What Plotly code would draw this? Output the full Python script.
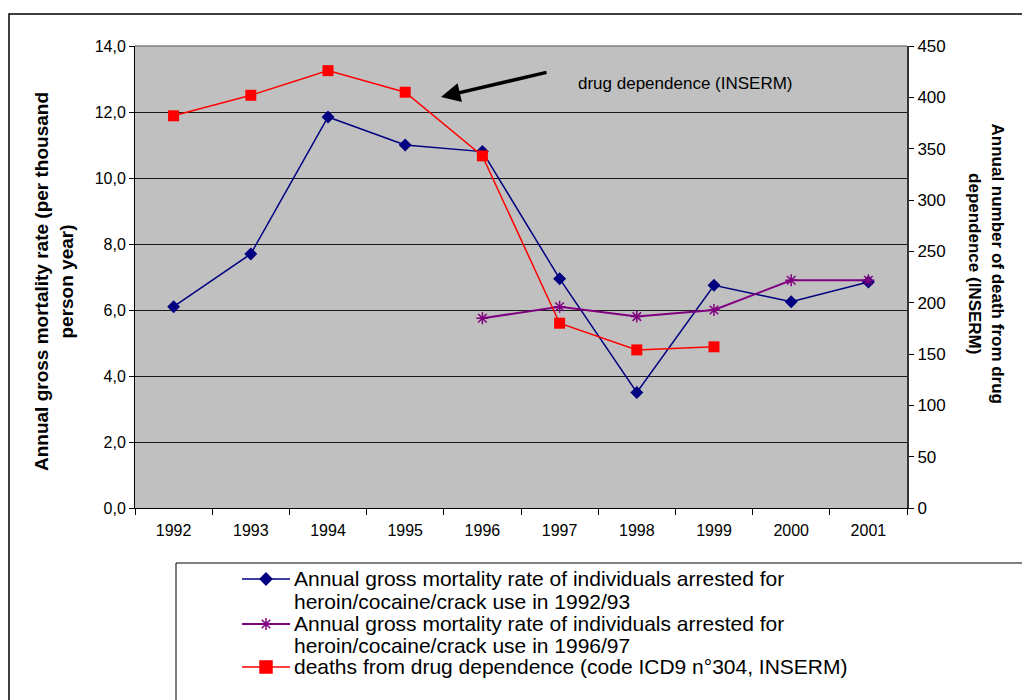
import plotly.graph_objects as go

years = ["1992", "1993", "1994", "1995", "1996", "1997", "1998", "1999", "2000", "2001"]
rate_9293 = [6.1, 7.7, 11.85, 11.0, 10.8, 6.95, 3.5, 6.75, 6.25, 6.85]
rate_9697 = [None, None, None, None, 5.75, 6.1, 5.8, 6.0, 6.9, 6.9]
deaths_inserm = [382, 402, 426, 405, 343, 180, 154, 157, None, None]

left_ticks = [0, 2, 4, 6, 8, 10, 12, 14]
left_ticktext = ["0,0", "2,0", "4,0", "6,0", "8,0", "10,0", "12,0", "14,0"]
right_ticks = [0, 50, 100, 150, 200, 250, 300, 350, 400, 450]

legend_lines = [
    ["Annual gross mortality rate of individuals arrested for",
     "heroin/cocaine/crack use in 1992/93"],
    ["Annual gross mortality rate of individuals arrested for",
     "heroin/cocaine/crack use in 1996/97"],
    ["deaths from drug dependence (code ICD9 n°304, INSERM)"],
]

FONT = "Liberation Sans, Arial, sans-serif"
BLUE, PURPLE, RED = "#000080", "#800080", "#FF0000"

# page offset (browser body margin)
OFF = 8
W, H = 1030 - OFF, 700 - OFF
PL, PR, PT, PB = 135, 907, 46, 508   # plot area in page pixels


def X(p):
    return (p - OFF) / W


def Y(p):
    return 1 - (p - OFF) / H


fig = go.Figure()
fig.add_trace(go.Scatter(x=years, y=rate_9293, mode="lines+markers", showlegend=False,
                         line=dict(color=BLUE, width=1.5),
                         marker=dict(symbol="diamond", size=10, color=BLUE)))
fig.add_trace(go.Scatter(x=years, y=rate_9697, mode="lines+markers", showlegend=False,
                         line=dict(color=PURPLE, width=2),
                         marker=dict(symbol="asterisk-open", size=10, color=PURPLE,
                                     line=dict(color=PURPLE, width=1.5))))
fig.add_trace(go.Scatter(x=years, y=deaths_inserm, mode="lines+markers", showlegend=False,
                         yaxis="y2",
                         line=dict(color=RED, width=1.5),
                         marker=dict(symbol="square", size=11, color=RED)))

# legend samples drawn on a hidden pixel-scaled axis pair
LX0, LX1 = 230, 310
LY0, LY1 = 566, 698
sample_rows = [579, 624, 667]
sample_styles = [
    dict(color=BLUE, symbol="diamond", size=9, lw=1.5),
    dict(color=PURPLE, symbol="asterisk-open", size=10, lw=2),
    dict(color=RED, symbol="square", size=12, lw=1.5),
]
for row, st in zip(sample_rows, sample_styles):
    fig.add_trace(go.Scatter(x=[242, 290], y=[row, row], mode="lines", showlegend=False,
                             xaxis="x3", yaxis="y3", hoverinfo="skip",
                             line=dict(color=st["color"], width=st["lw"])))
    fig.add_trace(go.Scatter(x=[266], y=[row], mode="markers", showlegend=False,
                             xaxis="x3", yaxis="y3", hoverinfo="skip",
                             marker=dict(symbol=st["symbol"], size=st["size"], color=st["color"],
                                         line=dict(color=st["color"], width=1.5))))

fig.update_layout(
    width=W, height=H,
    margin=dict(l=0, r=0, t=0, b=0),
    paper_bgcolor="white",
    plot_bgcolor="white",
    font=dict(family=FONT, size=15, color="black"),
    showlegend=False,
    xaxis=dict(domain=[X(PL), X(PR)], type="category", range=[-0.5, 9.5], tickson="boundaries",
               ticks="outside", ticklen=6, tickcolor="black", ticklabelstandoff=8,
               showline=True, linecolor="black", linewidth=1, automargin=False,
               showgrid=False, tickfont=dict(size=16), fixedrange=True),
    yaxis=dict(domain=[Y(PB), Y(PT)], range=[0, 14], tickvals=left_ticks, ticktext=left_ticktext,
               ticks="outside", ticklen=5, tickcolor="black", automargin=False,
               showline=True, linecolor="black", linewidth=1,
               showgrid=True, gridcolor="#1a1a1a", gridwidth=1,
               zeroline=False, tickfont=dict(size=16), fixedrange=True),
    yaxis2=dict(range=[0, 450], tickvals=right_ticks, overlaying="y", side="right",
                anchor="x", ticks="outside", ticklen=5, tickcolor="black", automargin=False,
                showline=True, linecolor="#333333", linewidth=2,
                showgrid=False, zeroline=False, tickfont=dict(size=17), fixedrange=True),
    xaxis3=dict(domain=[X(LX0), X(LX1)], range=[LX0, LX1], visible=False, anchor="y3",
                fixedrange=True),
    yaxis3=dict(domain=[Y(LY1), Y(LY0)], range=[LY1, LY0], visible=False, anchor="x3",
                fixedrange=True),
)

shapes = []
# outer chart frame
shapes.append(dict(type="rect", xref="paper", yref="paper",
                   x0=X(9), x1=X(1045), y0=Y(720), y1=Y(14),
                   line=dict(color="black", width=1.5), fillcolor="rgba(0,0,0,0)", layer="below"))
# plot area fill and top border
shapes.append(dict(type="rect", xref="paper", yref="paper",
                   x0=X(PL), x1=X(PR), y0=Y(PB), y1=Y(PT),
                   line=dict(width=0), fillcolor="#C0C0C0", layer="below"))
shapes.append(dict(type="line", xref="paper", yref="paper",
                   x0=X(PL), x1=X(PR), y0=Y(PT), y1=Y(PT), line=dict(color="#808080", width=1.5)))
# legend box
shapes.append(dict(type="rect", xref="paper", yref="paper",
                   x0=X(176), x1=X(1045), y0=Y(720), y1=Y(563),
                   line=dict(color="black", width=1), fillcolor="white", layer="below"))
fig.update_layout(shapes=shapes)

annotations = [
    dict(xref="paper", yref="paper", x=X(685), y=Y(72), text="drug dependence (INSERM)",
         showarrow=False, font=dict(family=FONT, size=17, color="black")),
    dict(xref="paper", yref="paper", x=X(441), y=Y(97), text="", showarrow=True,
         axref="pixel", ayref="pixel", ax=107, ay=-25,
         arrowhead=2, arrowsize=1.1, arrowwidth=3.5, arrowcolor="black"),
    dict(xref="paper", yref="paper", x=X(29), y=Y(282),
         text="<b>Annual gross mortality rate (per thousand<br>person year)</b>",
         textangle=-90, showarrow=False, font=dict(family=FONT, size=19, color="black")),
    dict(xref="paper", yref="paper", x=X(1009), y=Y(264),
         text="<b>Annual number of death from drug<br>dependence (INSERM)</b>",
         textangle=90, showarrow=False, font=dict(family=FONT, size=17, color="black")),
]
line_centers = [578, 601, 623, 645, 666]
flat = [t for group in legend_lines for t in group]
for txt, yc in zip(flat, line_centers):
    annotations.append(dict(xref="paper", yref="paper", x=X(292), y=Y(yc), xanchor="left",
                            yanchor="middle", text=txt, showarrow=False,
                            font=dict(family=FONT, size=21, color="black")))
fig.update_layout(annotations=annotations)

fig.write_html("out.html")
